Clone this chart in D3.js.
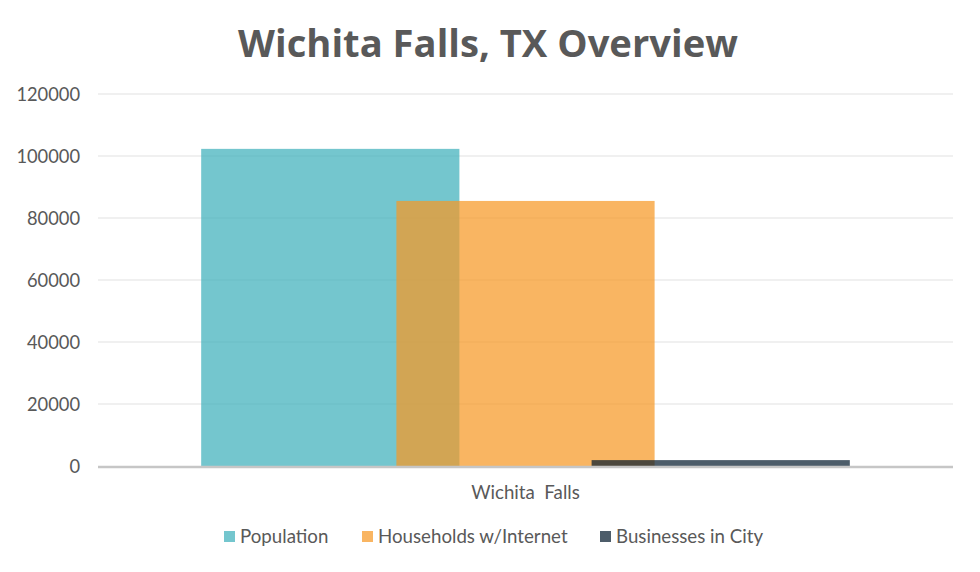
<!DOCTYPE html>
<html>
<head>
<meta charset="utf-8">
<script src="https://cdn.jsdelivr.net/npm/d3@7"></script>
<style>
  body { margin: 0; background: #fff; }
  .title { font-family: "Open Sans"; font-weight: bold; font-size: 38.2px; fill: #595959; }
  .axis text { font-family: Lato, "Open Sans", sans-serif; font-size: 18.3px; fill: #595959; }
  .catLabel, .legend text { font-family: Lato, "Open Sans", sans-serif; font-size: 18.7px; fill: #595959; }
  .grid line { stroke: #ebebeb; stroke-width: 1.3; }
</style>
</head>
<body>
<script>
(function (){

    //chart data
    var categories = ["Wichita Falls"];
    var seriesNames = ["Population", "Households w/Internet", "Businesses in City"];
    var seriesValues = [[102300], [85500], [1900]];
    var seriesColors = ["#3eb0bb", "#f79825", "#091e31"];
    var yTicks = [0, 20000, 40000, 60000, 80000, 100000, 120000];

    var width = 980,
        height = 572,
        left = 98,
        right = 953,
        top = 94,
        bottom = 466;

    var svg = d3.select("body")
        .append("svg")
        .attr("width", width)
        .attr("height", height);

    //title
    svg.append("text")
        .attr("class", "title")
        .attr("x", 488)
        .attr("y", 57)
        .attr("text-anchor", "middle")
        .text("Wichita Falls, TX Overview");

    //scales
    var yScale = d3.scaleLinear()
        .domain([0, 120000])
        .range([bottom, top]);

    var xScale = d3.scaleBand()
        .domain(categories)
        .range([left, right]);

    //gridlines
    svg.append("g")
        .attr("class", "grid")
        .selectAll("line")
        .data(yTicks.slice(1))
        .enter()
        .append("line")
        .attr("x1", left)
        .attr("x2", right)
        .attr("y1", function(d){ return yScale(d); })
        .attr("y2", function(d){ return yScale(d); });

    //y axis labels only
    var yAxis = d3.axisLeft(yScale)
        .tickValues(yTicks)
        .tickFormat(d3.format("d"))
        .tickSize(0)
        .tickPadding(18);

    var axis = svg.append("g")
        .attr("class", "axis")
        .attr("transform", "translate(" + left + ",0)")
        .call(yAxis);
    axis.select(".domain").remove();
    axis.selectAll("text").attr("dy", "0.35em");

    //bars: wide overlapping bars like excel
    var barWidth = xScale.bandwidth() * 0.302,
        barStep = barWidth * 0.756;

    categories.forEach(function(cat, c){
        var center = xScale(cat) + xScale.bandwidth() / 2;
        svg.selectAll(".bar" + c)
            .data(seriesNames)
            .enter()
            .append("rect")
            .attr("class", "bar" + c)
            .attr("x", function(d, i){
                return center + (i - 1) * barStep - barWidth / 2;
            })
            .attr("width", barWidth)
            .attr("y", function(d, i){ return yScale(seriesValues[i][c]); })
            .attr("height", function(d, i){ return bottom - yScale(seriesValues[i][c]); })
            .style("fill", function(d, i){ return seriesColors[i]; })
            .style("fill-opacity", 0.72);

        svg.append("text")
            .attr("class", "catLabel")
            .attr("x", center)
            .attr("y", 499)
            .attr("text-anchor", "middle")
            .attr("xml:space", "preserve")
            .text(cat.replace(" ", "  "));
    });

    //x axis line
    svg.append("line")
        .attr("x1", left)
        .attr("x2", right)
        .attr("y1", bottom + 1)
        .attr("y2", bottom + 1)
        .style("stroke", "#c6c6c6")
        .style("stroke-width", 2.5);

    //legend
    var legendX = [224, 362, 600];
    var legend = svg.append("g")
        .attr("class", "legend")
        .selectAll("g")
        .data(seriesNames)
        .enter()
        .append("g")
        .attr("transform", function(d, i){ return "translate(" + legendX[i] + ",531)"; });

    legend.append("rect")
        .attr("width", 11)
        .attr("height", 11)
        .style("fill", function(d, i){ return seriesColors[i]; })
        .style("fill-opacity", 0.72);

    legend.append("text")
        .attr("x", 16)
        .attr("y", 12)
        .text(function(d){ return d; });

})();
</script>
</body>
</html>
